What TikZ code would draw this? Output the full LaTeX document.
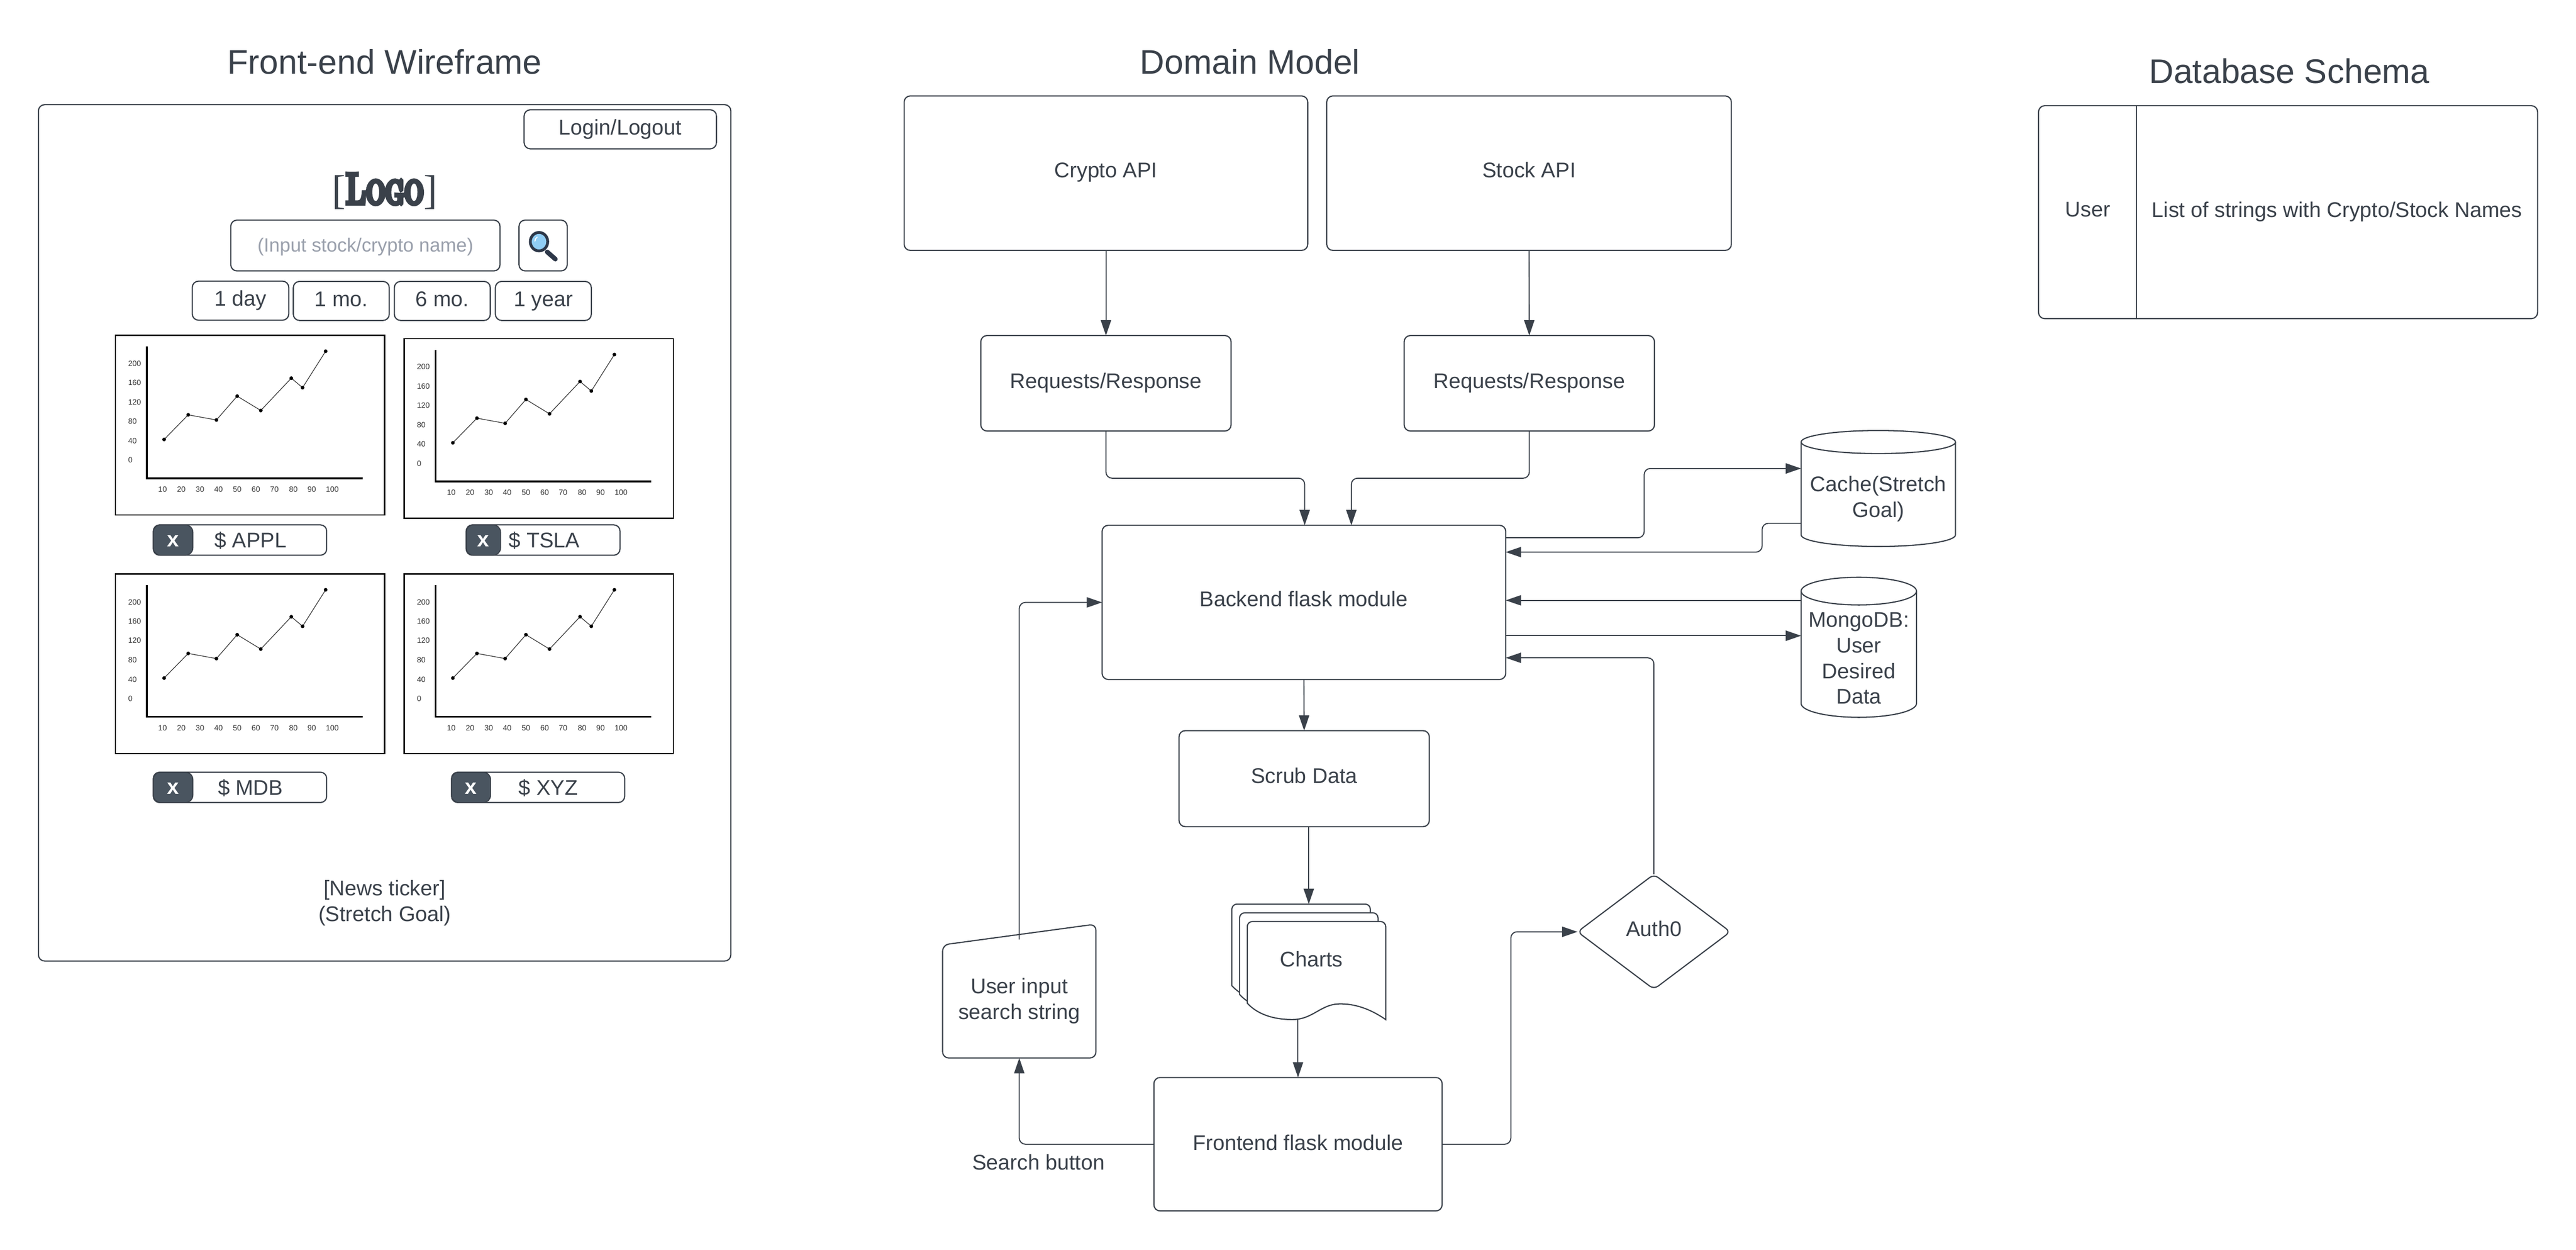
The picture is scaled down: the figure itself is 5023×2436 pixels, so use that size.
\documentclass[tikz,border=0pt]{standalone}
\usepackage{fontspec}
\setmainfont{Liberation Sans}
\newfontfamily\logofont[FakeStretch=0.68,FakeBold=9]{lmromancaps10-regular.otf}
\newfontfamily\logobrack{Liberation Serif}
\usetikzlibrary{arrows.meta,shapes.geometric,calc}
\definecolor{ink}{HTML}{3A414A}
\definecolor{darkbox}{HTML}{4A5560}
\definecolor{hint}{HTML}{9AA0AC}
\definecolor{lens}{HTML}{90CDF4}
\definecolor{handle}{HTML}{2D3748}
\newcommand\bodyfont{\fontsize{41.5}{50}\selectfont}
\newcommand\titlefont{\fontsize{66.5}{78}\selectfont}
\newcommand\tx[2]{\raisebox{#1pt}[0pt][0pt]{#2}}
\tikzset{
  every node/.style={font=\bodyfont,text=ink,inner sep=0pt,outer sep=0pt},
  boxx/.style={draw=ink,line width=2.3pt,rounded corners=12pt,fill=white,rectangle},
  darkx/.style={draw=ink,line width=2pt,rounded corners=14pt,fill=darkbox,rectangle,text=white,font=\bodyfont\bfseries},
  pagetitle/.style={font=\titlefont},
  chartframe/.style={draw=black,line width=2.4pt,fill=white,rectangle},
  axisline/.style={draw=black,line width=3.6pt},
  plotline/.style={draw=black!75,line width=1.4pt},
  ticklab/.style={font=\fontsize{15}{18}\selectfont,text=black!80},
  link/.style={draw=ink,line width=2.1pt,rounded corners=12pt},
  linkto/.style={link,-{Triangle[length=30pt,width=20pt]}},
  outline/.style={draw=ink,line width=2.3pt,fill=white},
}
\newcommand\chartblock[3]{%
\begin{scope}[shift={(#2,#3)}]
  \node[chartframe,minimum width=525pt,minimum height=350pt] (#1f) at (262.5,175) {};
  \draw[axisline] (61.5,22) -- (61.5,278.5) -- (482,278.5);
  \draw[plotline] (95,203) -- (142,155) -- (197,165) -- (237.5,118.5) -- (283.5,146.5) -- (343,83.5) -- (365,102) -- (410,31);
  \foreach \px/\py in {95/203,142/155,197/165,237.5/118.5,283.5/146.5,343/83.5,365/102,410/31}
    \fill[black] (\px,\py) circle[radius=3.6pt];
  \foreach \lab/\ly in {200/55,160/92.5,120/130,80/168,40/205.5,0/243}
    \node[ticklab,anchor=west] (#1y\lab) at (25,\ly) {\lab};
  \foreach \lab/\lx in {10/92,20/128.5,30/165,40/201,50/237.5,60/274,70/310,80/347,90/383,100/423}
    \node[ticklab] (#1x\lab) at (\lx,300) {\lab};
\end{scope}}
\begin{document}
\begin{tikzpicture}[x=1pt,y=-1pt]
\useasboundingbox (0,0) rectangle (5023,2436);
\fill[white] (0,0) rectangle (5023,2436);

% titles
\node[pagetitle] (t1) at (750,120) {Front-end Wireframe};
\node[pagetitle] (t2) at (2437.5,120) {Domain Model};
\node[pagetitle] (t3) at (4464,138.5) {Database Schema};

% wireframe
\node[boxx,minimum width=1350pt,minimum height=1669pt] (frame) at (750,1038.5) {};
\node[boxx,minimum width=375pt,minimum height=76pt] (login) at (1209.5,252) {\tx{-11}{Login/Logout}};
\node (logo) at (750,370) {\fontsize{80}{84}\selectfont\tx{-27}{{\logobrack[}{\fontsize{86}{84}\selectfont\logofont Logo}{\logobrack]}}};
\node[boxx,minimum width=525pt,minimum height=99pt,text=hint,font=\fontsize{37.3}{44}\selectfont] (input) at (712.5,478.5) {\tx{-12}{(Input stock/crypto name)}};
\node[boxx,minimum width=94pt,minimum height=99pt] (search) at (1059,478.5) {};
\draw[handle,line width=9pt,line cap=round] (1067,491) -- (1083,505);
\draw[handle,fill=lens,line width=5.5pt] (1051,471) circle[x radius=17pt,y radius=18pt];
\draw[white,line width=2pt,line cap=round] (1043,470) arc[start angle=180,end angle=120,radius=9pt];
\node[boxx,minimum width=188pt,minimum height=76pt] (d1) at (469,586) {\tx{-10}{1 day}};
\node[boxx,minimum width=187pt,minimum height=76pt] (d2) at (665.5,586.5) {\tx{-10.5}{1 mo.}};
\node[boxx,minimum width=187pt,minimum height=76pt] (d3) at (862.5,586.5) {\tx{-10.5}{6 mo.}};
\node[boxx,minimum width=187pt,minimum height=76pt] (d4) at (1059.5,586.5) {\tx{-10.5}{1 year}};

\chartblock{ca}{225}{653.5}
\chartblock{cb}{788}{660}
\chartblock{cc}{225}{1118.5}
\chartblock{cd}{788}{1118.5}

\node[boxx,minimum width=338pt,minimum height=59pt] (p1) at (468,1052.5) {\tx{-15}{\hspace*{41pt}\$ APPL}};
\node[darkx,minimum width=77pt,minimum height=59pt] (x1) at (337.5,1052.5) {\tx{-13}{x}};
\node[boxx,minimum width=300pt,minimum height=59pt] (p2) at (1059,1052.5) {\tx{-15}{\hspace*{5pt}\$ TSLA}};
\node[darkx,minimum width=67pt,minimum height=59pt] (x2) at (942.5,1052.5) {\tx{-13}{x}};
\node[boxx,minimum width=338pt,minimum height=59pt] (p3) at (468,1534.5) {\tx{-15}{\hspace*{41pt}\$ MDB}};
\node[darkx,minimum width=77pt,minimum height=59pt] (x3) at (337.5,1534.5) {\tx{-13}{x}};
\node[boxx,minimum width=337.5pt,minimum height=59pt] (p4) at (1049.25,1534.5) {\tx{-15}{\hspace*{40pt}\$ XYZ}};
\node[darkx,minimum width=76pt,minimum height=59pt] (x4) at (918.5,1534.5) {\tx{-13}{x}};
\node[align=center] (news) at (750,1760) {[News ticker]\\(Stretch Goal)};

% domain model
\node[boxx,minimum width=787pt,minimum height=301pt] (crypto) at (2156.5,337.5) {\tx{-8.5}{Crypto API}};
\node[boxx,minimum width=789pt,minimum height=301pt] (stock) at (2981.5,337.5) {\tx{-8.5}{Stock API}};
\node[boxx,minimum width=488pt,minimum height=186pt] (req1) at (2156.5,747) {\tx{-9.6}{Requests/Response}};
\node[boxx,minimum width=488pt,minimum height=186pt] (req2) at (2982,747) {\tx{-9.6}{Requests/Response}};
\node[boxx,minimum width=787pt,minimum height=300.5pt] (back) at (2542.5,1174) {\tx{-8}{Backend flask module}};
\node[boxx,minimum width=488pt,minimum height=187pt] (scrub) at (2543,1517.5) {\tx{-8.5}{Scrub Data}};
\node[boxx,minimum width=562pt,minimum height=260pt] (front) at (2531,2230) {\tx{-11.5}{Frontend flask module}};
\node[draw=ink,line width=2.3pt,diamond,aspect=1.33,rounded corners=10pt,fill=white,minimum width=298pt,minimum height=224pt] (auth) at (3225,1816) {\tx{-9}{Auth0}};

% cylinders
\draw[outline] (3512,861.5) -- (3512,1042.5) arc[start angle=180,end angle=360,x radius=150.5pt,y radius=22.5pt] -- (3813,861.5) arc[start angle=0,end angle=180,x radius=150.5pt,y radius=22.5pt] -- cycle;
\draw[outline,fill=none] (3512,861.5) arc[start angle=180,end angle=360,x radius=150.5pt,y radius=22.5pt];
\node[align=center,minimum width=301pt] (cache) at (3662.5,972) {Cache(Stretch\\Goal)};
\draw[outline] (3512,1152) -- (3512,1371) arc[start angle=180,end angle=360,x radius=112.5pt,y radius=27pt] -- (3737,1152) arc[start angle=0,end angle=180,x radius=112.5pt,y radius=27pt] -- cycle;
\draw[outline,fill=none] (3512,1152) arc[start angle=180,end angle=360,x radius=112.5pt,y radius=27pt];
\node[align=center,minimum width=225pt] (mongo) at (3624.5,1283) {MongoDB:\\User\\Desired\\Data};

% manual input
\draw[outline,rounded corners=12pt] (1838,1841.5) -- (2137,1801) -- (2137,2062) -- (1838,2062) -- cycle;
\node[align=center,minimum width=299pt,minimum height=223pt] (userin) at (1987.5,1950.5) {User input\\search string};

% document stack
\foreach \dx/\dy in {-30/-34,-15/-17,0/0}{
  \begin{scope}[shift={(\dx,\dy)}]
    \draw[outline] (2432,1955) [rounded corners=10pt] -- (2432,1796) -- (2702,1796) [sharp corners] -- (2702,1987)
      .. controls (2670,1965) and (2640,1956) .. (2612,1956.5)
      .. controls (2575,1957) and (2560,1987) .. (2520,1987)
      .. controls (2480,1987) and (2450,1975) .. (2432,1955) -- cycle;
  \end{scope}
}
\node[minimum width=300pt,minimum height=225pt] (charts) at (2552,1874.5) {\tx{-9.5}{\hspace*{10pt}Charts}};
\node (sbtn) at (2025,2265) {Search button};

% schema
\node[boxx,minimum width=973pt,minimum height=415pt] (schema) at (4461.5,413.5) {};
\draw[draw=ink,line width=2.3pt] ([xshift=-295.5pt]schema.north) -- ([xshift=-295.5pt]schema.south);
\node (schu) at (4071,408) {User};
\node (schl) at (4557,413) {List of strings with Crypto/Stock Names};

% connectors
\draw[linkto] (crypto.south) -- (req1.north);
\draw[linkto] (stock.south) -- (req2.north);
\draw[linkto] (req1.south) -- ++(0,92) -| ([xshift=1.5pt]back.north);
\draw[linkto] (req2.south) -- ++(0,92) -| ([xshift=92.5pt]back.north);
\draw[linkto] ([yshift=126pt]back.east) -- (3206,1048) -- (3206,913) -- ([yshift=59pt]cache.west);
\draw[linkto] ([yshift=-48pt]cache.west) -- (3436,1020) -- (3436,1076) -- ([yshift=98pt]back.east);
\draw[linkto] ([yshift=113pt]mongo.west) -- ([yshift=4pt]back.east);
\draw[linkto] ([yshift=-65pt]back.east) -- ([yshift=44pt]mongo.west);
\draw[linkto] (auth.north) -- (3225,1282) -- ([yshift=-108pt]back.east);
\draw[linkto] (back.south) -- (scrub.north);
\draw[linkto] ([xshift=9pt]scrub.south) -- (charts.north);
\draw[linkto] ([xshift=-21pt]charts.south) -- (front.north);
\draw[linkto] (front.west) -| (userin.south);
\draw[linkto] (front.east) -- (2946,2230) -- (2946,1816) -- (auth.west);
\draw[linkto] ([yshift=8pt]userin.north) -- (1987.5,1174) -- (back.west);
\end{tikzpicture}
\end{document}
